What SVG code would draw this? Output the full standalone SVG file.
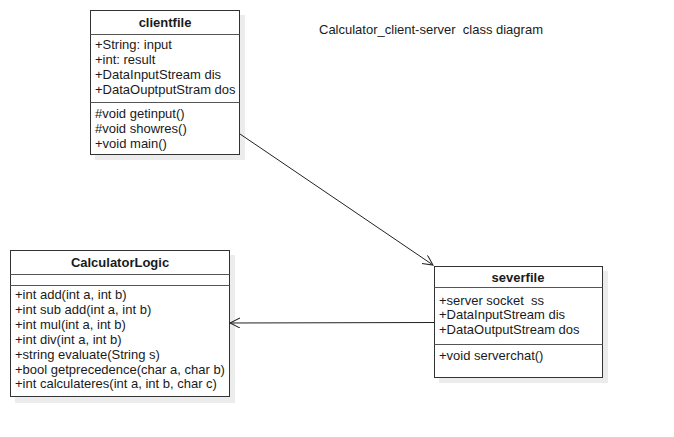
<svg xmlns="http://www.w3.org/2000/svg" width="674" height="437" viewBox="0 0 674 437">
<style>
text { font-family: "Liberation Sans", Arial, sans-serif; font-size: 13px; fill: #1a1a1a; }
.title { font-weight: bold; text-anchor: middle; }
.box { fill: #ffffff; stroke: #333333; stroke-width: 1; }
.shadow { fill: #ececec; }
.div { stroke: #555555; stroke-width: 1; }
.conn { stroke: #222222; stroke-width: 1; fill: none; }
</style>
<defs>
<marker id="open" markerWidth="12" markerHeight="12" refX="10" refY="5" orient="auto" markerUnits="userSpaceOnUse">
<path d="M0,0 L10,5 L0,10" fill="none" stroke="#222222" stroke-width="1"/>
</marker>
</defs>
<rect width="674" height="437" fill="#ffffff"/>
<text x="319" y="34" xml:space="preserve">Calculator_client-server  class diagram</text>
<g id="clientfile">
<rect class="shadow" x="95" y="15" width="150" height="145"/>
<rect class="box" x="90.5" y="10.5" width="149" height="144"/>
<line class="div" x1="90.5" y1="34.5" x2="239.5" y2="34.5"/>
<line class="div" x1="90.5" y1="102.5" x2="239.5" y2="102.5"/>
<text class="title" x="165" y="27">clientfile</text>
<text x="95" y="49">+String: input</text>
<text x="95" y="64">+int: result</text>
<text x="95" y="79">+DataInputStream dis</text>
<text x="95" y="94">+DataOuptputStram dos</text>
<text x="95" y="118">#void getinput()</text>
<text x="95" y="133">#void showres()</text>
<text x="95" y="148">+void main()</text>
</g>
<g id="CalculatorLogic">
<rect class="shadow" x="15" y="255" width="220" height="148"/>
<rect class="box" x="10.5" y="250.5" width="219" height="146"/>
<line class="div" x1="10.5" y1="274.5" x2="229.5" y2="274.5"/>
<line class="div" x1="10.5" y1="285.5" x2="229.5" y2="285.5"/>
<text class="title" x="120" y="267">CalculatorLogic</text>
<text x="15" y="299">+int add(int a, int b)</text>
<text x="15" y="314">+int sub add(int a, int b)</text>
<text x="15" y="329">+int mul(int a, int b)</text>
<text x="15" y="344">+int div(int a, int b)</text>
<text x="15" y="359">+string evaluate(String s)</text>
<text x="15" y="374">+bool getprecedence(char a, char b)</text>
<text x="15" y="388">+int calculateres(int a, int b, char c)</text>
</g>
<g id="severfile">
<rect class="shadow" x="439" y="271" width="169" height="112"/>
<rect class="box" x="434.5" y="266.5" width="168" height="111"/>
<line class="div" x1="434.5" y1="287.5" x2="602.5" y2="287.5"/>
<line class="div" x1="434.5" y1="344.5" x2="602.5" y2="344.5"/>
<text class="title" x="518" y="282">severfile</text>
<text x="439" y="305" xml:space="preserve">+server socket  ss</text>
<text x="439" y="319">+DataInputStream dis</text>
<text x="439" y="334">+DataOutputStream dos</text>
<text x="439" y="360">+void serverchat()</text>
</g>
<g id="connectors">
<line class="conn" x1="240" y1="134" x2="433" y2="265" marker-end="url(#open)"/>
<line class="conn" x1="434" y1="322.5" x2="230" y2="323" marker-end="url(#open)"/>
</g>
</svg>
